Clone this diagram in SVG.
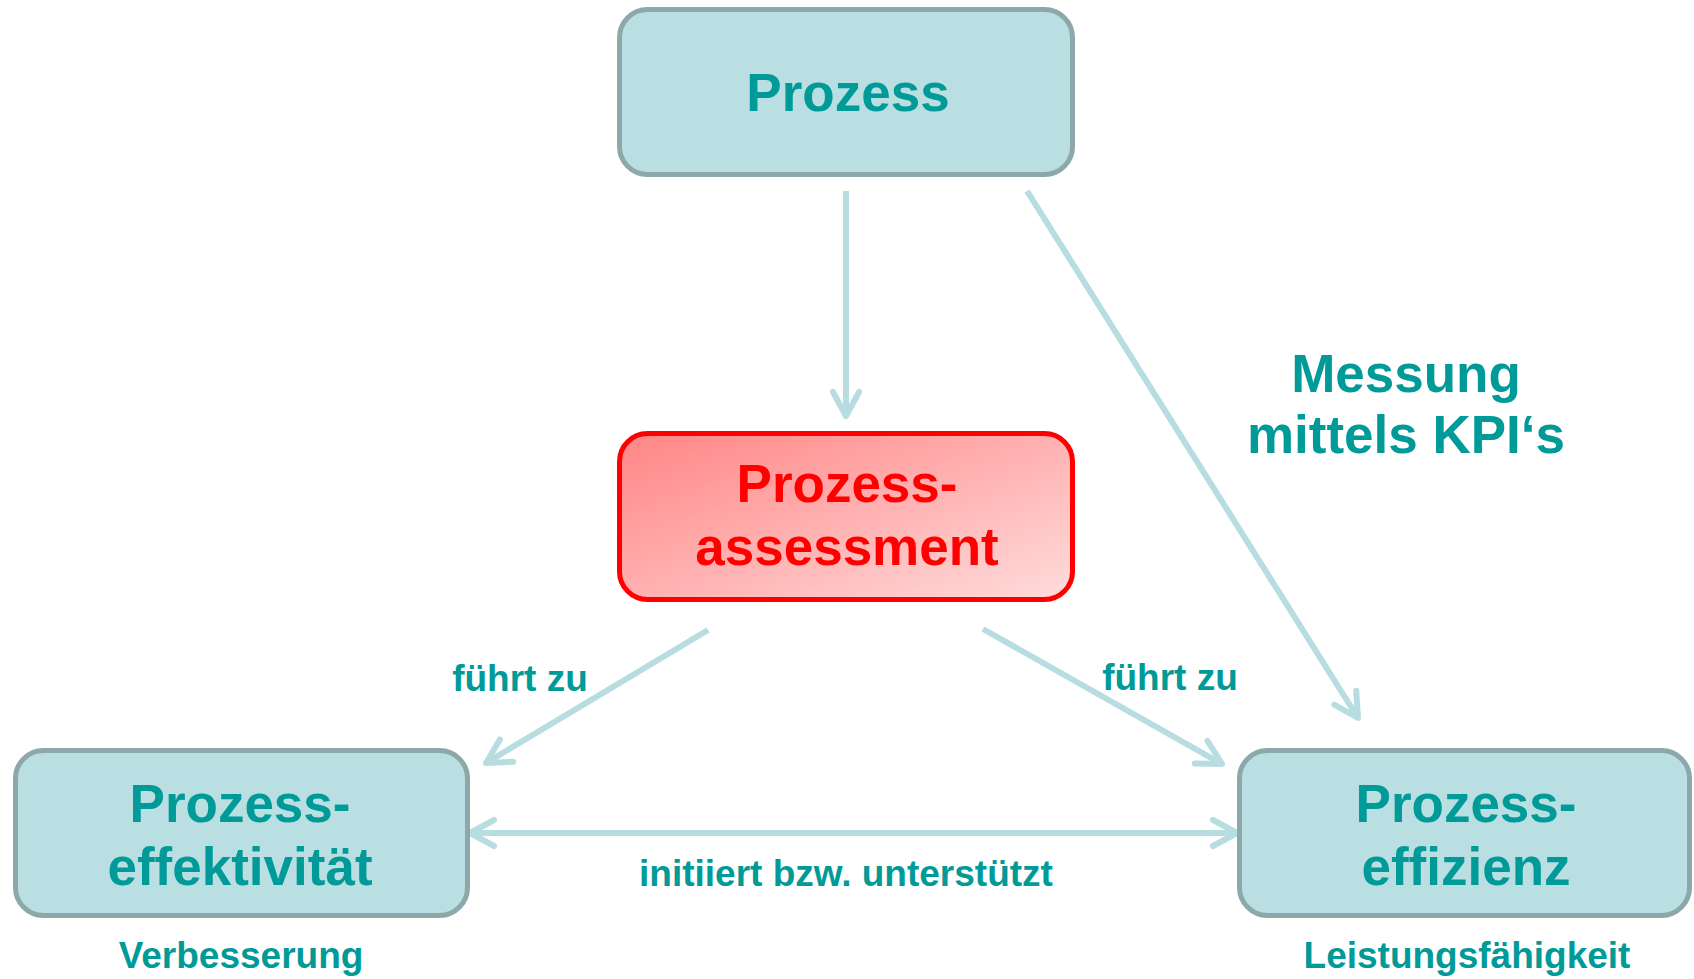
<svg xmlns="http://www.w3.org/2000/svg" width="1694" height="979" viewBox="0 0 1694 979">
  <style>
    .box { fill: #BADFE2; stroke: #8CA8AA; stroke-width: 5; }
    .red { fill: url(#redGrad); stroke: #FF0000; stroke-width: 5; }
    .big { font-family: "Liberation Sans", Arial, sans-serif; font-weight: bold; font-size: 53px; fill: #009A98; text-anchor: middle; }
    .bigred { font-family: "Liberation Sans", Arial, sans-serif; font-weight: bold; font-size: 53px; fill: #FF0000; text-anchor: middle; }
    .small { font-family: "Liberation Sans", Arial, sans-serif; font-weight: bold; font-size: 37px; fill: #009A98; text-anchor: middle; }
    .conn { stroke: #B8DDE0; stroke-width: 6; fill: none; }
  </style>
  <defs>
    <linearGradient id="redGrad" x1="0" y1="0" x2="1" y2="1">
      <stop offset="0" stop-color="#FF8585"/>
      <stop offset="1" stop-color="#FFDCDC"/>
    </linearGradient>
    <marker id="chev" markerUnits="userSpaceOnUse" viewBox="-30 -20 40 40" refX="0" refY="0" markerWidth="40" markerHeight="40" orient="auto-start-reverse" overflow="visible">
      <path d="M -24 -13 L 0 0 L -24 13" fill="none" stroke="#B8DDE0" stroke-width="6" stroke-linecap="round" stroke-linejoin="round"/>
    </marker>
  </defs>

  <g id="connectors">
    <line class="conn" x1="846" y1="191" x2="846" y2="416" marker-end="url(#chev)"/>
    <line class="conn" x1="1027" y1="191" x2="1358" y2="718" marker-end="url(#chev)"/>
    <line class="conn" x1="708" y1="630" x2="486" y2="763" marker-end="url(#chev)"/>
    <line class="conn" x1="983" y1="629" x2="1222" y2="764" marker-end="url(#chev)"/>
    <line class="conn" x1="470" y1="833" x2="1237" y2="833" marker-start="url(#chev)" marker-end="url(#chev)"/>
  </g>

  <g id="node-prozess">
    <rect class="box" x="619.5" y="9.5" width="453" height="165" rx="28"/>
    <text class="big" x="848" y="111">Prozess</text>
  </g>

  <g id="node-assessment">
    <rect class="red" x="619.5" y="433.5" width="453" height="166" rx="28"/>
    <text class="bigred" x="847" y="502">Prozess-</text>
    <text class="bigred" x="847" y="565">assessment</text>
  </g>

  <g id="node-effektivitaet">
    <rect class="box" x="15.5" y="750.5" width="452" height="165" rx="28"/>
    <text class="big" x="240" y="822">Prozess-</text>
    <text class="big" x="240" y="885">effektivität</text>
  </g>

  <g id="node-effizienz">
    <rect class="box" x="1239.5" y="750.5" width="450" height="165" rx="28"/>
    <text class="big" x="1466" y="822">Prozess-</text>
    <text class="big" x="1466" y="885">effizienz</text>
  </g>

  <g id="labels">
    <text class="big" x="1406" y="392">Messung</text>
    <text class="big" x="1406" y="453">mittels KPI‘s</text>
    <text class="small" x="520" y="691">führt zu</text>
    <text class="small" x="1170" y="690">führt zu</text>
    <text class="small" x="846" y="886">initiiert bzw. unterstützt</text>
    <text class="small" x="241" y="968">Verbesserung</text>
    <text class="small" x="1467" y="968">Leistungsfähigkeit</text>
  </g>
</svg>
